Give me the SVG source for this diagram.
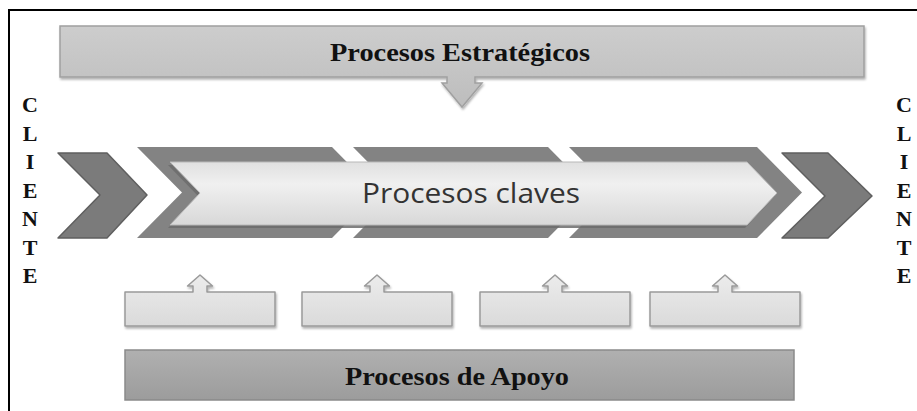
<svg xmlns="http://www.w3.org/2000/svg" width="917" height="411" viewBox="0 0 917 411">
<style>
.serif{font-family:"Liberation Serif","Times New Roman",serif;font-weight:bold;fill:#111}
.cl{font-size:22px;text-anchor:middle}
.sans{font-family:"Open Sans","Noto Sans","DejaVu Sans",sans-serif;fill:#333}
.chev{fill:#7b7b7b;stroke:#5f5f5f;stroke-width:1.5;stroke-linejoin:round}
.band{fill:#838383}
.sup{fill:url(#gSup);stroke:#9a9a9a;stroke-width:1.5;stroke-linejoin:round}
</style>
<defs>
<linearGradient id="gTop" x1="0" y1="0" x2="0" y2="1">
<stop offset="0" stop-color="#cdcdcd"/><stop offset="1" stop-color="#bdbdbd"/>
</linearGradient>
<linearGradient id="gBot" x1="0" y1="0" x2="0" y2="1">
<stop offset="0" stop-color="#b0b0b0"/><stop offset="1" stop-color="#9c9c9c"/>
</linearGradient>
<linearGradient id="gKey" x1="0" y1="0" x2="0" y2="1">
<stop offset="0" stop-color="#e0e0e0"/><stop offset="0.35" stop-color="#f0f0f0"/><stop offset="1" stop-color="#d8d8d8"/>
</linearGradient>
<linearGradient id="gSup" x1="0" y1="0" x2="0" y2="1">
<stop offset="0" stop-color="#ececec"/><stop offset="1" stop-color="#dadada"/>
</linearGradient>
<filter id="sh" x="-5%" y="-20%" width="110%" height="150%">
<feDropShadow dx="1" dy="2" stdDeviation="1.2" flood-color="#000" flood-opacity="0.3"/>
</filter>
</defs>
<rect width="917" height="411" fill="#fff"/>
<g id="frame" stroke="#000" stroke-width="2" fill="none">
<line x1="9" y1="10" x2="917" y2="10"/>
<line x1="9" y1="9" x2="9" y2="411"/>
</g>
<g id="estrategicos">
<path d="M60,26 H864 V77 H475 V83 H482 L462,107 L442,83 H447 V77 H60 Z" fill="url(#gTop)" stroke="#a0a0a0" stroke-width="1.5" filter="url(#sh)"/>
<text class="serif" x="460" y="61" font-size="25" text-anchor="middle" textLength="260" lengthAdjust="spacingAndGlyphs">Procesos Estratégicos</text>
</g>
<g id="cliente-izq" class="serif cl">
<text x="30" y="112">C</text><text x="30" y="140.5">L</text><text x="30" y="169">I</text><text x="30" y="197.5">E</text><text x="30" y="226">N</text><text x="30" y="254.5">T</text><text x="30" y="283">E</text>
</g>
<g id="cliente-der" class="serif cl">
<text x="904" y="112">C</text><text x="904" y="140.5">L</text><text x="904" y="169">I</text><text x="904" y="197.5">E</text><text x="904" y="226">N</text><text x="904" y="254.5">T</text><text x="904" y="283">E</text>
</g>
<g id="chevron-izq">
<path class="chev" d="M58,153 H107 L147,195 L107,238 H58 L100,195 Z"/>
</g>
<g id="procesos-claves">
<path class="band" d="M137,147 H332 L377,192.5 L332,238 H137 L182,192.5 Z"/>
<path class="band" d="M353,147 H548 L593,192.5 L548,238 H353 L398,192.5 Z"/>
<path class="band" d="M569,147 H757 L802,192.5 L757,238 H569 L614,192.5 Z"/>
<path d="M168,165 H745 L775,196 L745,228 H168 L198,196 Z" fill="#6c6c6c" opacity="0.85"/>
<path d="M170,162 H747 L777,193 L747,225 H170 L200,193 Z" fill="url(#gKey)" stroke="#b8b8b8" stroke-width="1"/>
<text class="sans" x="471" y="203" font-size="28" text-anchor="middle" textLength="218" lengthAdjust="spacingAndGlyphs">Procesos claves</text>
</g>
<g id="chevron-der">
<path class="chev" d="M782,153 H828 L872,196 L828,238 H782 L825,196 Z"/>
</g>
<g id="apoyo-1"><path class="sup" filter="url(#sh)" d="M125,292 H193 V286 H187.5 L200,275 L212.5,286 H207 V292 H275 V326 H125 Z"/></g>
<g id="apoyo-2"><path class="sup" filter="url(#sh)" d="M302,292 H370 V286 H364.5 L377,275 L389.5,286 H384 V292 H452 V326 H302 Z"/></g>
<g id="apoyo-3"><path class="sup" filter="url(#sh)" d="M480,292 H548 V286 H542.5 L555,275 L567.5,286 H562 V292 H630 V326 H480 Z"/></g>
<g id="apoyo-4"><path class="sup" filter="url(#sh)" d="M650,292 H718 V286 H712.5 L725,275 L737.5,286 H732 V292 H800 V326 H650 Z"/></g>
<g id="procesos-apoyo">
<rect x="125" y="350" width="669" height="50" fill="url(#gBot)" stroke="#8a8a8a" stroke-width="1.5"/>
<text class="serif" x="457" y="385" font-size="25" text-anchor="middle" textLength="224" lengthAdjust="spacingAndGlyphs">Procesos de Apoyo</text>
</g>
<g id="connectors"></g>
</svg>
